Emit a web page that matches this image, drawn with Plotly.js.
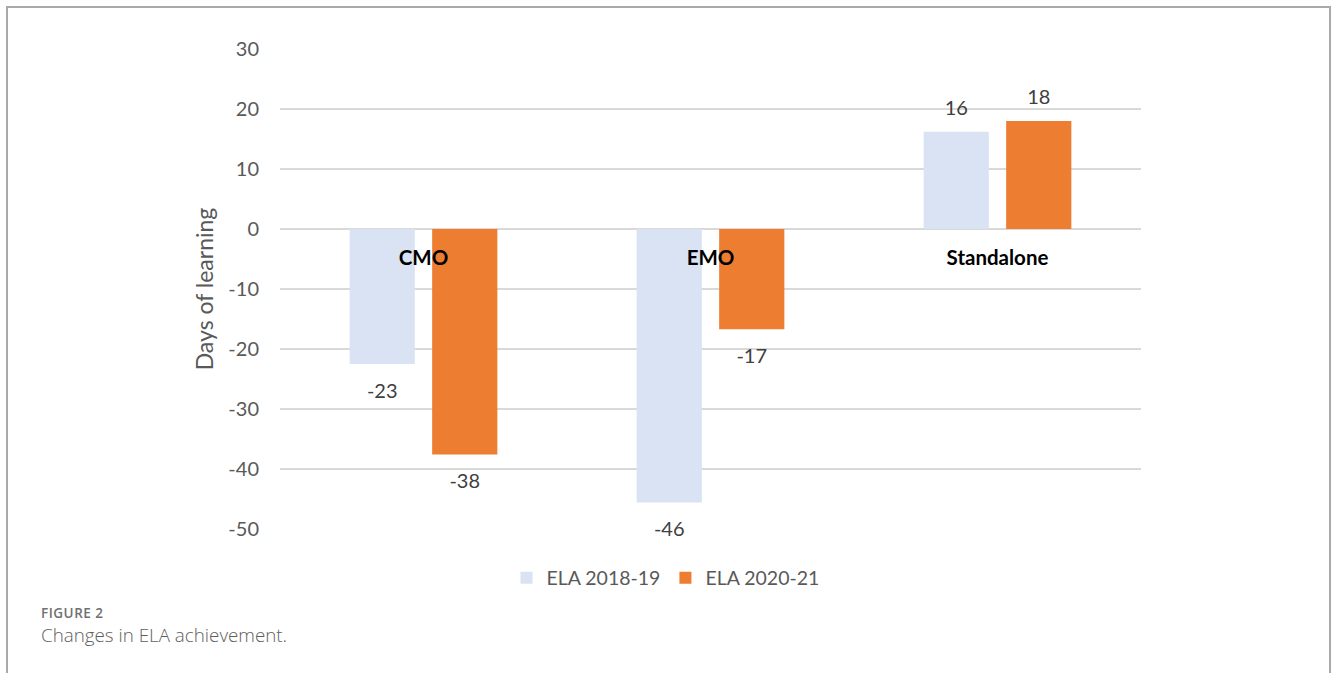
<!DOCTYPE html>
<html><head><meta charset="utf-8">
<script src="https://cdn.plot.ly/plotly-3.0.1.min.js"></script>
<style>
html,body{margin:0;padding:0;background:#fff;}
#wrap{position:relative;width:1331px;height:673px;overflow:hidden;}
#chart{position:absolute;left:0;top:0;width:1331px;height:673px;}
#frame{position:absolute;left:6px;top:6px;width:1325px;height:700px;border:2px solid #a9a9a9;border-bottom:none;box-sizing:border-box;pointer-events:none;}
.cap1{position:absolute;left:41px;top:604px;font-family:'Open Sans';font-weight:600;font-size:13.5px;color:#707070;letter-spacing:0.5px;}
.cap2{position:absolute;left:41px;top:622px;font-family:'Open Sans';font-weight:300;font-size:18.8px;color:#5e5e5e;}
</style></head>
<body><div id="wrap"><div id="chart"></div><div id="frame"></div>
<div class="cap1">FIGURE 2</div><div class="cap2">Changes in ELA achievement.</div></div>
<script>
// ---- data ----
const categories = ['CMO', 'EMO', 'Standalone'];
const seriesNames = ['ELA 2018-19', 'ELA 2020-21'];
const ela1819 = [-22.5, -45.6, 16.2];
const ela2021 = [-37.6, -16.7, 18.0];
const labels1819 = ['-23', '-46', '16'];
const labels2021 = ['-38', '-17', '18'];
const yTickVals = [30, 20, 10, 0, -10, -20, -30, -40, -50];
const yTickText = ['30', '20', '10', '0', '-10', '-20', '-30', '-40', '-50'];
const yTitle = 'Days of learning';

// ---- styles ----
const colors = ['#dae3f3', '#ed7d31'];
const FONT = 'Lato, "Open Sans", sans-serif';
const GRID = '#d9d9d9';
const TXT = '#595959';

const series = [ela1819, ela2021];
const labelSets = [labels1819, labels2021];

const traces = [];
series.forEach((vals, i) => {
  traces.push({
    type: 'bar', name: seriesNames[i], x: categories, y: vals,
    offsetgroup: String(i), marker: {color: colors[i]}, hoverinfo: 'skip'
  });
});
series.forEach((vals, i) => {
  traces.push({
    type: 'scatter', mode: 'markers+text', x: categories, y: vals,
    text: labelSets[i], offsetgroup: String(i), showlegend: false,
    marker: {opacity: 0, size: vals.map(v => v < 0 ? 28 : 18)},
    textposition: vals.map(v => v < 0 ? 'bottom center' : 'top center'),
    textfont: {family: FONT, size: 20, color: '#404040'},
    cliponaxis: false, hoverinfo: 'skip'
  });
});

const layout = {
  width: 1331, height: 673,
  margin: {l: 280, r: 190, t: 49, b: 144, pad: 0},
  paper_bgcolor: 'rgba(0,0,0,0)', plot_bgcolor: 'rgba(0,0,0,0)',
  barmode: 'group', bargap: 0.425, bargroupgap: 0.21,
  scattermode: 'group', scattergap: 0.425,
  font: {family: FONT, color: TXT},
  xaxis: {
    type: 'category', anchor: 'free', position: 0.625,
    showgrid: false, zeroline: false, showline: false, ticks: '',
    tickfont: {family: FONT, size: 20.5, color: '#000', weight: 'bold'},
    ticklabelstandoff: 14
  },
  yaxis: {
    range: [-50, 30], tickvals: yTickVals, ticktext: yTickText, ticks: '',
    showgrid: true, gridcolor: GRID, gridwidth: 1.5,
    zeroline: true, zerolinecolor: GRID, zerolinewidth: 1.5,
    showline: false,
    tickfont: {family: FONT, size: 20, color: TXT},
    ticklabelstandoff: 20,
    title: {text: yTitle, font: {family: FONT, size: 23, color: TXT}, standoff: 8}
  },
  showlegend: true,
  legend: {
    orientation: 'h', xref: 'container', yref: 'container',
    x: 0.5, xanchor: 'center', y: 1 - 578/673, yanchor: 'middle',
    font: {family: FONT, size: 19.5, color: TXT}, traceorder: 'normal'
  }
};

Plotly.newPlot('chart', traces, layout, {displayModeBar: false, staticPlot: true});
</script></body></html>
